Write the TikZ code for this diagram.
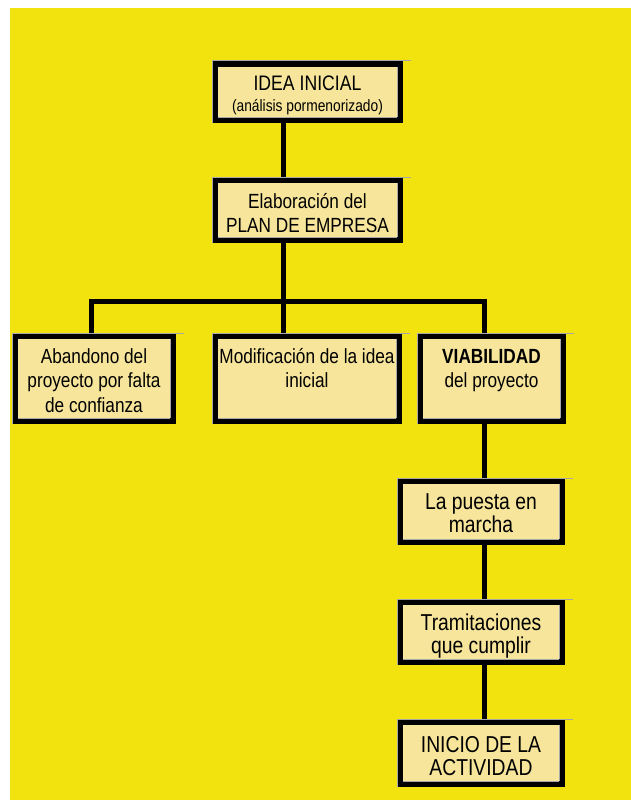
\documentclass[tikz,border=0pt]{standalone}
\usepackage{fontspec}
\setmainfont{Liberation Sans}[FakeStretch=0.84]

\definecolor{fondo}{RGB}{242,226,14}
\definecolor{relleno}{RGB}{246,229,154}
\definecolor{gris}{RGB}{168,168,168}

\tikzstyle{realce} = [draw=gris, line width=1pt]
\tikzstyle{linea} = [draw=black, line width=5pt]
\tikzstyle{caja} = [draw=black, fill=relleno, line width=6pt,
    rectangle, inner sep=3pt, font=\fontsize{20.5pt}{24.5pt}\selectfont,
    append after command={
      (\tikzlastnode.south west) edge[realce] (\tikzlastnode.north west)
      (\tikzlastnode.north west) edge[realce] ([xshift=8pt]\tikzlastnode.north east)
      ([xshift=6pt,yshift=6pt]\tikzlastnode.south west) edge[realce] ([xshift=-6pt,yshift=6pt]\tikzlastnode.south east)
      ([xshift=-6pt,yshift=6pt]\tikzlastnode.south east) edge[realce] ([xshift=-6pt,yshift=-6pt]\tikzlastnode.north east)}]
\tikzstyle{cajagrande} = [caja, font=\fontsize{23pt}{23.5pt}\selectfont]

\begin{document}
\begin{tikzpicture}[x=1pt, y=-1pt]
\useasboundingbox (0,0) rectangle (631,800);
\fill[fondo] (10,8) rectangle (631,800);

\node[caja, text height=23.7pt, text depth=26.3pt] (idea) at (307.5,92) {%
    \begin{minipage}[t]{179pt}\centering\fontsize{21pt}{21pt}\selectfont
    IDEA INICIAL\\
    {\fontsize{16.4pt}{21pt}\selectfont (análisis pormenorizado)}
    \end{minipage}};
\node[caja, text height=25pt, text depth=29pt] (plan) at (307.5,210) {%
    \begin{minipage}[t]{179pt}\centering
    Elaboración del\\ PLAN DE EMPRESA
    \end{minipage}};

% tres salidas del plan
\node[caja, text height=24pt, text depth=55pt] (aband) at (94,378.5) {%
    \begin{minipage}[t]{152pt}\centering
    Abandono del\\ proyecto por falta\\ de confianza
    \end{minipage}};
\node[caja, text height=24pt, text depth=55pt] (modif) at (307,378.5) {%
    \begin{minipage}[t]{178pt}\centering
    Modificación de la idea\\ inicial
    \end{minipage}};
\node[caja, text height=24pt, text depth=55pt] (viab) at (491.5,378.5) {%
    \begin{minipage}[t]{137pt}\centering
    \textbf{VIABILIDAD}\\ del proyecto
    \end{minipage}};

% camino de la viabilidad
\node[cajagrande, text height=25.3pt, text depth=29.7pt] (puesta) at (481,511.5) {%
    \begin{minipage}[t]{156pt}\centering
    La puesta en\\ marcha
    \end{minipage}};
\node[cajagrande, text height=25pt, text depth=29pt] (tramit) at (481,632) {%
    \begin{minipage}[t]{156pt}\centering
    Tramitaciones\\ que cumplir
    \end{minipage}};
\node[cajagrande, text height=27pt, text depth=29pt] (inicio) at (481,753) {%
    \begin{minipage}[t]{156pt}\centering
    INICIO DE LA\\ ACTIVIDAD
    \end{minipage}};

\coordinate (barra) at (283,301);
\draw[linea] ([xshift=-24.5pt]idea.south) -- ([xshift=-24.5pt]plan.north);
\draw[linea] ([xshift=-24.5pt]plan.south) -- ([xshift=-24pt]modif.north);
\draw[linea] ([xshift=-3pt]aband.north) |- (barra) -| ([xshift=-7.5pt]viab.north);
\draw[linea] ([xshift=-7.5pt]viab.south) -- ([xshift=3pt]puesta.north);
\draw[linea] ([xshift=3pt]puesta.south) -- ([xshift=3pt]tramit.north);
\draw[linea] ([xshift=3pt]tramit.south) -- ([xshift=3pt]inicio.north);
\end{tikzpicture}
\end{document}
